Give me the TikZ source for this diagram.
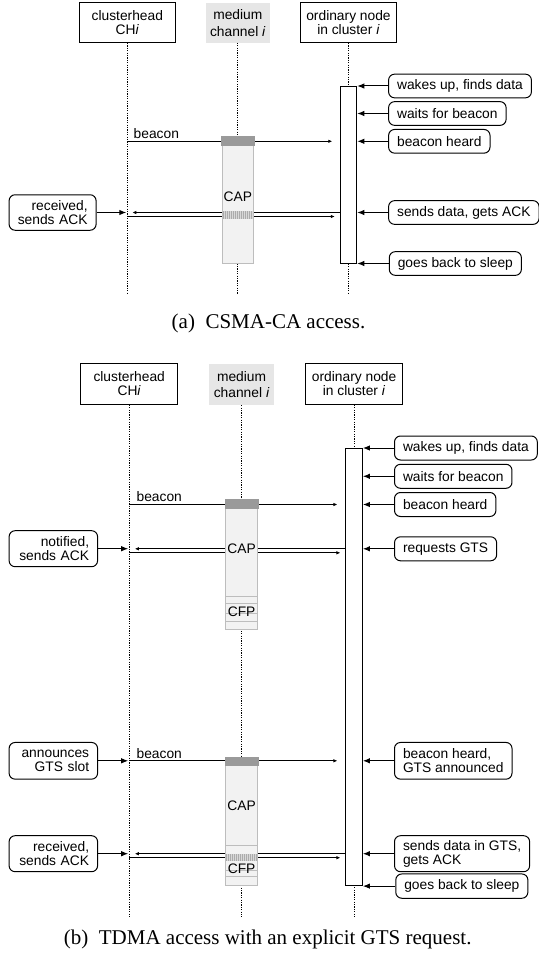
\documentclass[tikz,border=0pt]{standalone}
\usepackage{fontspec}
\setmainfont{Liberation Serif}
\newfontfamily\diagfont{Liberation Sans}
\usetikzlibrary{arrows.meta}
\usetikzlibrary{calc}
\definecolor{medgray}{HTML}{E6E6E6}
\definecolor{slotfill}{HTML}{F2F2F2}
\definecolor{slotline}{HTML}{BDBDBD}
\definecolor{beaconfill}{HTML}{9A9A9A}
\definecolor{hatchfill}{HTML}{ABABAB}
\definecolor{hatchline}{HTML}{D8D8D8}

\begin{document}
\begin{tikzpicture}[x=1pt,y=-1pt,
  every node/.style={font=\diagfont\fontsize{13.8}{14.3}\selectfont},
  head/.style={draw,line width=1pt,minimum width=95.5,minimum height=39.5,align=center,inner sep=0},
  medhead/.style={fill=medgray,minimum width=64,minimum height=39.5,align=center,inner sep=0},
  lifeline/.style={dash pattern=on 1.2pt off 1.2pt,line width=0.7pt},
  actbox/.style={draw,fill=white,line width=1pt,minimum width=16,inner sep=0},
  rnote/.style={draw,rounded corners=6pt,line width=1pt,anchor=west,align=left,inner xsep=8.5,inner ysep=0,minimum height=23.7},
  lnote/.style={draw,rounded corners=6pt,line width=1pt,anchor=west,align=right,text width=70,inner xsep=8.5,inner ysep=0,minimum height=35.5},
  notearrow/.style={-{Latex[length=7pt,width=5.5pt]},line width=1pt},
  msg/.style={-{Latex[length=4pt,width=3.5pt]},line width=0.8pt},
  lbl/.style={anchor=base west,inner sep=0},
  slot/.style={fill=slotfill,draw=slotline,line width=0.9pt,minimum width=31.6,inner sep=0},
  slotsep/.style={draw=slotline,line width=0.8pt},
  hatchstroke/.style={draw=hatchline,line width=0.6pt},
  caption/.style={font=\fontsize{21}{25}\selectfont}]
\useasboundingbox (0,0) rectangle (538,960);

\node[head] (chA) at (127.3,22.7) {clusterhead\\CH\textit{i}};
\node[medhead] (medA) at (237.8,22.9) {medium\\[2.5pt]channel \textit{i}};
\node[head] (ordA) at (348.5,22.7) {ordinary node\\in cluster \textit{i}};
\draw[lifeline] (chA.south) -- ++(0,251.7);
\draw[lifeline] (medA.south) -- ++(0,251.3);
\draw[lifeline] (ordA.south) -- ++(0,251.7);
\node[actbox,minimum height=177.3] (actA) at (348.8,174.7) {};

\node[rnote] (wkA) at (388.1,86) {wakes up, finds data};
\node[rnote] (wtA) at (388.1,113.5) {waits for beacon};
\node[rnote] (bhA) at (388.1,141.3) {beacon heard};
\node[rnote] (sdA) at (388.1,212.5) {sends data, gets ACK};
\node[rnote] (slA) at (388.8,263.5) {goes back to sleep};
\foreach \n in {wkA,wtA,bhA,sdA,slA}
  \draw[notearrow] (\n.west) -- (\n.west -| actA.east);
\node[lnote] (rcA) at (8.6,212.5) {received,\\sends ACK};
\draw[notearrow,shorten >=1pt] (rcA.east) -- (rcA.east -| chA.south);

\draw[msg] (chA.south |- bhA.west) node[lbl,xshift=6pt,yshift=2.7pt] {beacon} -- ($(actA.west |- bhA.west)+(-8,0)$);
\draw[msg] (actA.west |- sdA.west) -- ($(chA.south |- sdA.west)+(5,0)$);
\draw[msg] ($(chA.south |- sdA.west)+(0,4)$) -- ($(actA.west |- sdA.west)+(-5.5,4)$);

\node[slot,minimum height=126.6] (frA) at (237.8,200) {};
\filldraw[beaconfill] (frA.north west) rectangle ($(frA.north east)+(0,9)$);
\fill[hatchfill] ($(frA.north west)+(1,74.6)$) rectangle ($(frA.north east)+(-1,82.6)$);
\foreach \k in {0,...,14}
  \draw[hatchstroke] ($(frA.north west)+(2.5+2*\k,74.6)$) -- ++(0,8);
\node at (237.8,196.7) {CAP};

\node[caption] (capA) at (268.5,323.3) {(a)\enspace CSMA-CA access.};

\node[head,minimum width=97,minimum height=41] (chB) at (129.2,383.8) {clusterhead\\CH\textit{i}};
\node[medhead,minimum width=65,minimum height=41] (medB) at (241.6,384.5) {medium\\[2.5pt]channel \textit{i}};
\node[head,minimum width=97,minimum height=41] (ordB) at (354.1,383.8) {ordinary node\\in cluster \textit{i}};
\draw[lifeline] (chB.south) -- ++(0,512.4);
\draw[lifeline] (medB.south) -- ++(0,511.7);
\draw[lifeline] (ordB.south) -- ++(0,512.4);
\node[actbox,minimum width=16.5,minimum height=437.4] (actB) at (354.15,667) {};

\node[rnote,minimum height=24] (wkB) at (394,448) {wakes up, finds data};
\node[rnote,minimum height=24] (wtB) at (394,476.3) {waits for beacon};
\node[rnote,minimum height=24] (bhB) at (394,504.5) {beacon heard};
\node[rnote,minimum height=24] (rqB) at (394,548.8) {requests GTS};
\node[rnote,minimum height=36.7] (baB) at (394,760.8) {beacon heard,\\GTS announced};
\node[rnote,minimum height=36] (sgB) at (394,853.7) {sends data in GTS,\\gets ACK};
\node[rnote,minimum height=24.3] (slB) at (395.3,886.1) {goes back to sleep};
\foreach \n in {wkB,wtB,bhB,rqB,baB,sgB,slB}
  \draw[notearrow] (\n.west) -- (\n.west -| actB.east);
\node[lnote,text width=71.5,minimum height=36] (ntB) at (8.6,548.7) {notified,\\sends ACK};
\node[lnote,text width=71.5,minimum height=36.7] (anB) at (8.6,760.8) {announces\\GTS slot};
\node[lnote,text width=71.5,minimum height=36] (rcB) at (8.6,853.7) {received,\\sends ACK};
\foreach \n in {ntB,anB,rcB}
  \draw[notearrow,shorten >=1pt] (\n.east) -- (\n.east -| chB.south);

\draw[msg] (chB.south |- bhB.west) node[lbl,xshift=7pt,yshift=2.7pt] {beacon} -- ($(actB.west |- bhB.west)+(-8,0)$);
\draw[msg] (actB.west |- rqB.west) -- ($(chB.south |- rqB.west)+(5.6,0)$);
\draw[msg] ($(chB.south |- rqB.west)+(0,4)$) -- ($(actB.west |- rqB.west)+(-5,4)$);
\draw[msg] (chB.south |- baB.west) node[lbl,xshift=7pt,yshift=2.7pt] {beacon} -- ($(actB.west |- baB.west)+(-8,0)$);
\draw[msg] (actB.west |- sgB.west) -- ($(chB.south |- sgB.west)+(5.6,0)$);
\draw[msg] ($(chB.south |- sgB.west)+(0,4)$) -- ($(actB.west |- sgB.west)+(-5,4)$);

\node[slot,minimum width=32.2,minimum height=129] (frB) at (241.6,564.5) {};
\filldraw[beaconfill] (frB.north west) rectangle ($(frB.north east)+(0,8.7)$);
\foreach \d in {96.7,104,114,121.5}
  \draw[slotsep] ($(frB.north west)+(0,\d)$) -- ($(frB.north east)+(0,\d)$);
\node at (241.6,549) {CAP};
\node at (241.6,611.5) {CFP};

\node[slot,minimum width=32.2,minimum height=128.4] (frC) at (241.6,821.5) {};
\filldraw[beaconfill] (frC.north west) rectangle ($(frC.north east)+(0,8.7)$);
\foreach \d in {88.7,113.7,120}
  \draw[slotsep] ($(frC.north west)+(0,\d)$) -- ($(frC.north east)+(0,\d)$);
\fill[hatchfill] ($(frC.north west)+(1,96.7)$) rectangle ($(frC.north east)+(-1,104.4)$);
\foreach \k in {0,...,14}
  \draw[hatchstroke] ($(frC.north west)+(2.6+2*\k,96.7)$) -- ++(0,7.7);
\node at (241.6,805.7) {CAP};
\node at (241.6,868.8) {CFP};

\node[caption] (capB) at (267.7,939) {(b)\enspace TDMA access with an explicit GTS request.};
\end{tikzpicture}
\end{document}
